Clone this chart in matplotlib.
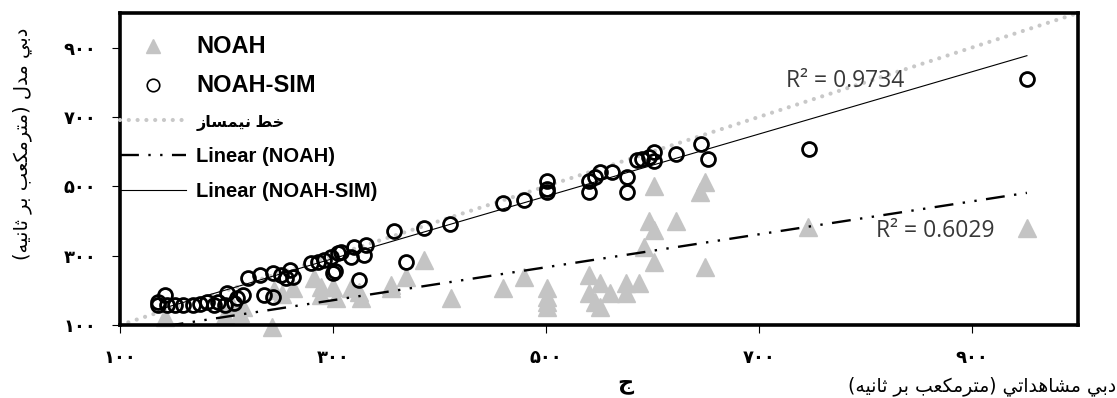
import numpy as np
import matplotlib.pyplot as plt
from matplotlib.lines import Line2D

noah_x = [142, 199, 213, 206, 216, 243, 245, 252, 263, 282, 289, 289, 300, 303, 317, 325,
          326, 355, 355, 369, 386, 411, 460, 480, 501, 501, 501, 501, 541, 541, 551, 546,
          551, 560, 575, 588, 575, 602, 597, 602, 592, 602, 622, 650, 645, 650, 746, 952]
noah_y = [123, 129, 135, 152, 152, 94, 200, 190, 207, 236, 210, 187, 210, 178, 207, 196,
          178, 216, 207, 239, 288, 178, 207, 239, 207, 181, 167, 152, 245, 193, 222, 167,
          152, 193, 222, 222, 193, 500, 399, 375, 326, 283, 399, 512, 483, 268, 384, 381]

sim_x = [136, 142, 136, 144, 152, 159, 169, 175, 182, 188, 192, 199, 201, 207, 210, 216,
         220, 232, 235, 244, 244, 251, 256, 260, 263, 279, 286, 292, 298, 305, 308, 317,
         329, 320, 331, 300, 302, 325, 357, 369, 386, 410, 460, 480, 501, 501, 501, 541,
         541, 546, 551, 562, 576, 576, 586, 590, 597, 602, 602, 622, 646, 652, 747, 952]
sim_y = [167, 187, 158, 158, 158, 158, 158, 161, 167, 158, 167, 158, 193, 164, 178, 187,
         236, 245, 187, 181, 251, 245, 236, 259, 239, 280, 283, 288, 297, 309, 312, 297,
         303, 326, 332, 251, 256, 230, 370, 283, 381, 390, 451, 462, 514, 491, 483, 514,
         485, 526, 540, 540, 526, 485, 575, 578, 584, 599, 572, 593, 622, 578, 607, 810]

ident = [100, 1000]
trend_noah = (0.475, 29.0)   # slope, intercept
trend_sim = (0.898, 22.0)
r2_noah = 'R² = 0.6029'
r2_sim = 'R² = 0.9734'

ticks = [100, 300, 500, 700, 900]
tick_labels = ['۱۰۰', '۳۰۰', '۵۰۰', '۷۰۰', '۹۰۰']

# matplotlib has no RTL shaping, so pick presentation forms by hand
FORMS = {
    'ا': ('\ufe8d', '\ufe8e'), 'د': ('\ufea9', '\ufeaa'),
    'ر': ('\ufead', '\ufeae'), 'ز': ('\ufeaf', '\ufeb0'),
    'ب': ('\ufe8f', '\ufe90', '\ufe91', '\ufe92'), 'ت': ('\ufe95', '\ufe96', '\ufe97', '\ufe98'),
    'ث': ('\ufe99', '\ufe9a', '\ufe9b', '\ufe9c'), 'ج': ('\ufe9d', '\ufe9e', '\ufe9f', '\ufea0'),
    'خ': ('\ufea5', '\ufea6', '\ufea7', '\ufea8'), 'س': ('\ufeb1', '\ufeb2', '\ufeb3', '\ufeb4'),
    'ش': ('\ufeb5', '\ufeb6', '\ufeb7', '\ufeb8'), 'ط': ('\ufec1', '\ufec2', '\ufec3', '\ufec4'),
    'ع': ('\ufec9', '\ufeca', '\ufecb', '\ufecc'), 'ک': ('\ufb8e', '\ufb8f', '\ufb90', '\ufb91'),
    'ل': ('\ufedd', '\ufede', '\ufedf', '\ufee0'), 'م': ('\ufee1', '\ufee2', '\ufee3', '\ufee4'),
    'ن': ('\ufee5', '\ufee6', '\ufee7', '\ufee8'), 'ه': ('\ufee9', '\ufeea', '\ufeeb', '\ufeec'),
    'ی': ('\ufef1', '\ufef2', '\ufef3', '\ufef4'),
}


def fa(s):
    out = []
    for i, ch in enumerate(s):
        f = FORMS.get(ch)
        if f is None:
            out.append(ch)
            continue
        prev = FORMS.get(s[i - 1]) if i > 0 else None
        nxt = FORMS.get(s[i + 1]) if i + 1 < len(s) else None
        a = prev is not None and len(prev) == 4
        b = nxt is not None and len(f) == 4
        if a and b:
            out.append(f[3])
        elif a:
            out.append(f[1])
        elif b:
            out.append(f[2])
        else:
            out.append(f[0])
    return ''.join(out)[::-1].translate(str.maketrans('()', ')('))


fig = plt.figure(figsize=(11.17, 3.98), dpi=100)
ax = fig.add_axes([0.1074, 0.1834, 0.8577, 0.7839])

tri_c = '#c4c4c4'
l_id, = ax.plot(ident, ident, color='#c8c8c8', lw=3, ls=(0, (0.01, 2.1)),
                dash_capstyle='round', zorder=1)
l_noah, = ax.plot(noah_x, noah_y, ls='none', marker='^', ms=13, mfc=tri_c, mec=tri_c,
                  clip_on=False, zorder=2)
l_sim, = ax.plot(sim_x, sim_y, ls='none', marker='o', ms=10, mfc='none', mec='black',
                 mew=2, clip_on=False, zorder=3)

xn = np.array([min(noah_x), max(noah_x)])
l_tn, = ax.plot(xn, trend_noah[0] * xn + trend_noah[1], color='black', lw=1.7,
                ls=(0, (8, 4, 1, 4, 1, 4)), zorder=4)
xs = np.array([min(sim_x), max(sim_x)])
l_ts, = ax.plot(xs, trend_sim[0] * xs + trend_sim[1], color='black', lw=0.8, zorder=4)

ax.text(781, 803, r2_sim, ha='center', va='center', fontsize=16.5, family='Open Sans', color='#383838')
ax.text(866, 370, r2_noah, ha='center', va='center', fontsize=16.5, family='Open Sans', color='#383838')

ax.set_xlim(100, 1000)
ax.set_ylim(100, 1000)
ax.set_xticks(ticks)
ax.set_yticks(ticks)
ax.set_xticklabels(tick_labels, fontweight='bold', fontsize=13, family='DejaVu Sans')
ax.set_yticklabels(tick_labels, fontweight='bold', fontsize=13, family='DejaVu Sans')
ax.tick_params(direction='out', length=6, width=0.8, pad=11)
for sp in ax.spines.values():
    sp.set_linewidth(2.6)

leg_tri = Line2D([], [], ls='none', marker='^', ms=10, mfc=tri_c, mec=tri_c)
leg_circ = Line2D([], [], ls='none', marker='o', ms=9, mfc='none', mec='black', mew=1.2)
leg = ax.legend([leg_tri, leg_circ, l_id, l_tn, l_ts],
                ['NOAH', 'NOAH-SIM', fa('خط نیمساز'), 'Linear (NOAH)', 'Linear (NOAH-SIM)'],
                loc='upper left', bbox_to_anchor=(0, 0.93), borderaxespad=0, borderpad=0,
                frameon=False, handlelength=3.3, handletextpad=0.5, labelspacing=0.8,
                prop={'family': ['Liberation Sans', 'DejaVu Sans'], 'weight': 'bold', 'size': 14.5})
leg_sizes = [17, 17, 11.5, 14.5, 14.5]
for t, s in zip(leg.get_texts(), leg_sizes):
    t.set_fontsize(s)

fig.text(0.999, 0.03, fa('دبی مشاهداتی (مترمکعب بر ثانیه)'), ha='right', va='center', fontsize=13.5)
fig.text(0.02, 0.638, fa('دبی مدل (مترمکعب بر ثانیه)'), rotation=90, ha='center', va='center', fontsize=14)
fig.text(0.5595, 0.035, fa('ج'), ha='center', va='center', fontsize=16, fontweight='bold')

fig.savefig('out.png', dpi=100)
